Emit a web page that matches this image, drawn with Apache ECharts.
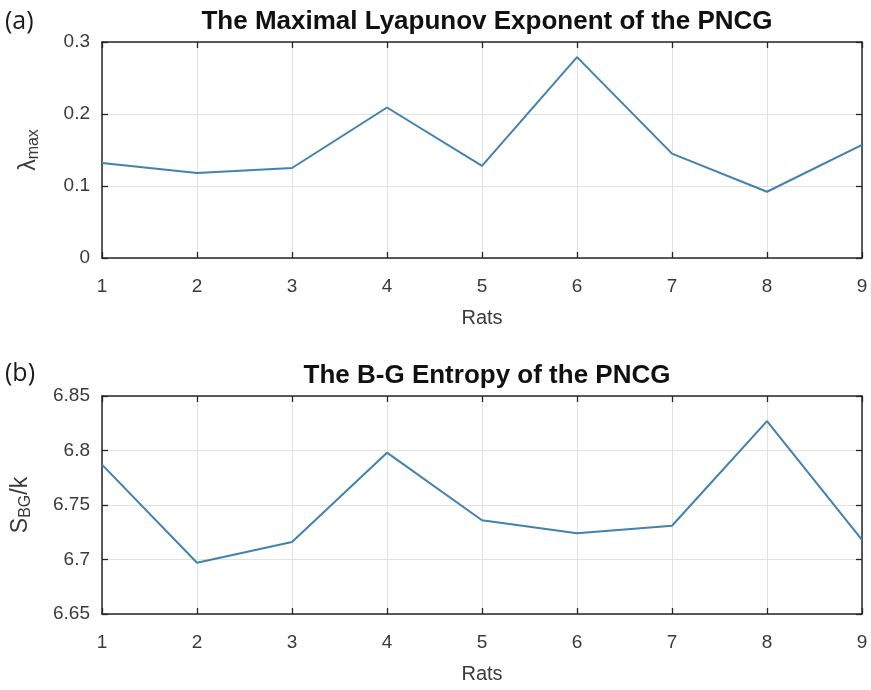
<!DOCTYPE html>
<html>
<head>
<meta charset="utf-8">
<script src="https://cdn.jsdelivr.net/npm/echarts@6/dist/echarts.min.js"></script>
<style>
html,body{margin:0;padding:0;background:#fff;}
#chart{width:871px;height:690px;}
</style>
</head>
<body>
<div id="chart"></div>
<script>
// ---- data ----
var rats = [1, 2, 3, 4, 5, 6, 7, 8, 9];
var lyapunovMax = [0.132, 0.118, 0.125, 0.209, 0.128, 0.279, 0.145, 0.092, 0.157];
var bgEntropy = [6.787, 6.697, 6.716, 6.798, 6.736, 6.724, 6.731, 6.827, 6.718];
var titleA = 'The Maximal Lyapunov Exponent of the PNCG';
var titleB = 'The B-G Entropy of the PNCG';
var xName = 'Rats';
var yTicksA = {min: 0, max: 0.3, interval: 0.1};
var yTicksB = {min: 6.65, max: 6.85, interval: 0.05};
var xTicks = {min: 1, max: 9, interval: 1};

function pairs(xs, ys) { return xs.map(function (x, i) { return [x, ys[i]]; }); }

var FONT = '"Liberation Sans", Arial, sans-serif';
var AX = '#262626';
var LBL = '#3a3a3a';
var GRIDC = '#e2e2e2';
var LINE = '#4282ad';

var chart = echarts.init(document.getElementById('chart'), null, {renderer: 'canvas'});

function mainX(gi) {
  return {
    type: 'value', gridIndex: gi, min: xTicks.min, max: xTicks.max, interval: xTicks.interval,
    position: 'bottom',
    name: xName, nameLocation: 'middle', nameGap: 50,
    nameTextStyle: {fontFamily: FONT, fontSize: 20, color: LBL},
    axisLine: {show: true, onZero: false, lineStyle: {color: AX, width: 1.5}},
    axisTick: {show: true, inside: true, length: 6, lineStyle: {color: AX, width: 1.3}},
    axisLabel: {fontFamily: FONT, fontSize: 19, color: LBL, margin: 19},
    splitLine: {show: true, lineStyle: {color: GRIDC, width: 1}}
  };
}
function topX(gi) {
  return {
    type: 'value', gridIndex: gi, min: xTicks.min, max: xTicks.max, interval: xTicks.interval,
    position: 'top',
    axisLine: {show: true, onZero: false, lineStyle: {color: AX, width: 1.5}},
    axisTick: {show: true, inside: true, length: 6, lineStyle: {color: AX, width: 1.3}},
    axisLabel: {show: false}, splitLine: {show: false}
  };
}
function mainY(gi, t, name, gap) {
  return {
    type: 'value', gridIndex: gi, min: t.min, max: t.max, interval: t.interval,
    position: 'left',
    name: name, nameLocation: 'middle', nameGap: gap, nameRotate: 90,
    nameTextStyle: {
      fontFamily: FONT, fontSize: 21, color: LBL,
      rich: {
        n: {fontFamily: FONT, fontSize: 23, color: LBL},
        s: {fontFamily: FONT, fontSize: 16, color: LBL, padding: [10, 0, 0, 0]}
      }
    },
    axisLine: {show: true, onZero: false, lineStyle: {color: AX, width: 1.5}},
    axisTick: {show: true, inside: true, length: 6, lineStyle: {color: AX, width: 1.3}},
    axisLabel: {fontFamily: FONT, fontSize: 19, color: LBL, margin: 12},
    splitLine: {show: true, lineStyle: {color: GRIDC, width: 1}}
  };
}
function rightY(gi, t) {
  return {
    type: 'value', gridIndex: gi, min: t.min, max: t.max, interval: t.interval,
    position: 'right',
    axisLine: {show: true, onZero: false, lineStyle: {color: AX, width: 1.5}},
    axisTick: {show: true, inside: true, length: 6, lineStyle: {color: AX, width: 1.3}},
    axisLabel: {show: false}, splitLine: {show: false}
  };
}

var option = {
  backgroundColor: '#ffffff',
  animation: false,
  title: [
    {text: titleA, left: 482, top: 4, textAlign: 'center',
     textStyle: {fontFamily: FONT, fontSize: 26, fontWeight: 'bold', color: '#111'}},
    {text: titleB, left: 482, top: 358, textAlign: 'center',
     textStyle: {fontFamily: FONT, fontSize: 26, fontWeight: 'bold', color: '#111'}}
  ],
  graphic: [
    {type: 'text', left: 5, top: 9, style: {text: '(a)', font: '25px "Open Sans", "Noto Sans", sans-serif', fill: '#1a1a1a'}},
    {type: 'text', left: 5, top: 361, style: {text: '(b)', font: '25px "Open Sans", "Noto Sans", sans-serif', fill: '#1a1a1a'}}
  ],
  grid: [
    {left: 102, right: 9, top: 42, height: 216},
    {left: 102, right: 9, top: 396, height: 218}
  ],
  xAxis: [mainX(0), topX(0), mainX(1), topX(1)],
  yAxis: [
    mainY(0, yTicksA, '{n|λ}{s|max}', 60),
    rightY(0, yTicksA),
    mainY(1, yTicksB, '{n|S}{s|BG}{n|/k}', 68),
    rightY(1, yTicksB)
  ],
  series: [
    {type: 'line', xAxisIndex: 0, yAxisIndex: 0, data: pairs(rats, lyapunovMax),
     showSymbol: false, lineStyle: {color: LINE, width: 2}, itemStyle: {color: LINE}},
    {type: 'line', xAxisIndex: 2, yAxisIndex: 2, data: pairs(rats, bgEntropy),
     showSymbol: false, lineStyle: {color: LINE, width: 2}, itemStyle: {color: LINE}}
  ]
};
chart.setOption(option);
</script>
</body>
</html>
